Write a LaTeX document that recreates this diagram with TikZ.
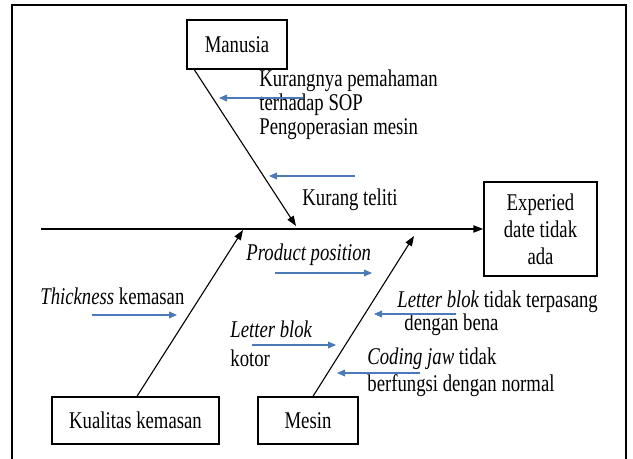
\documentclass[tikz,border=0pt]{standalone}
\usepackage{fontspec}
\setmainfont{Liberation Serif}[FakeStretch=0.78]
\usetikzlibrary{arrows.meta}
\definecolor{causeblue}{RGB}{74,122,184}
\begin{document}
\begin{tikzpicture}[x=0.5pt,y=-0.5pt,
  box/.style={draw=black, line width=0.7pt, inner sep=0pt, align=center,
    font=\fontsize{12}{13.6}\selectfont},
  lbl/.style={anchor=west, inner sep=0pt, align=left,
    font=\fontsize{12}{11.9}\selectfont},
  spine/.style={line width=0.7pt, -{Triangle[length=5pt,width=3.6pt]}},
  bone/.style={line width=0.55pt, -{Triangle[length=5pt,width=3.6pt]}},
  cause/.style={draw=causeblue, line width=0.6pt,
    -{Triangle[length=4pt,width=3.4pt]}}
]
\useasboundingbox (0,0) rectangle (633,459);
\fill[white] (0,0) rectangle (633,459);

% open frame round the diagram
\draw[line width=1.4pt] (12,459) -- (12,5) -- (626,5) -- (626,459);

% category and effect boxes
\node[box, minimum width=50pt, minimum height=24.5pt] (man) at (237,44.5) {Manusia};
\node[box, minimum width=56.5pt, minimum height=47pt] (eff) at (540.5,229) {Experied\\date tidak\\ada};
\node[box, minimum width=83.5pt, minimum height=23.5pt] (kual) at (135.5,420.5) {Kualitas kemasan};
\node[box, minimum width=50pt, minimum height=23.5pt] (mes) at (308,420.5) {Mesin};

% spine and bones
\coordinate (tail) at (41,229);
\coordinate (mantip) at (296,226);
\coordinate (kualtip) at (243,230);
\coordinate (mestip) at (414,236);
\draw[spine] (tail) -- (eff.west);
\draw[bone] ([xshift=4pt]man.south west) -- (mantip);
\draw[bone] ([xshift=0.75pt]kual.north) -- (kualtip);
\draw[bone] ([xshift=2.5pt]mes.north) -- (mestip);

% cause labels
\node[lbl] (c1) at (259,104.5) {Kurangnya pemahaman\\terhadap SOP\\Pengoperasian mesin};
\node[lbl] (c2) at (302,200) {Kurang teliti};
\node[lbl] (c3) at (246,255) {\textit{Product position}};
\node[lbl] (c4) at (40,296) {\textit{Thickness} kemasan};
\node[lbl] (c5) at (397,302) {\textit{Letter blok} tidak terpasang};
\node[lbl] (c5b) at (404,325) {dengan bena};
\node[lbl] (c6) at (230,329) {\textit{Letter blok}};
\node[lbl] (c6b) at (230,358) {kotor};
\node[lbl] (c7) at (367,359) {\textit{Coding jaw} tidak};
\node[lbl] (c7b) at (367,386) {berfungsi dengan normal};

% cause arrows
\coordinate (a1s) at (303,98);  \coordinate (a1e) at (219,98);
\coordinate (a2s) at (355,176); \coordinate (a2e) at (269,176);
\coordinate (a3s) at (275,273); \coordinate (a3e) at (372,273);
\coordinate (a4s) at (92,315);  \coordinate (a4e) at (177,315);
\coordinate (a5s) at (456,314); \coordinate (a5e) at (374,314);
\coordinate (a6s) at (252,345); \coordinate (a6e) at (336,345);
\coordinate (a7s) at (420,373); \coordinate (a7e) at (337,373);
\foreach \n in {1,...,7} \draw[cause] (a\n s) -- (a\n e);
\end{tikzpicture}
\end{document}
